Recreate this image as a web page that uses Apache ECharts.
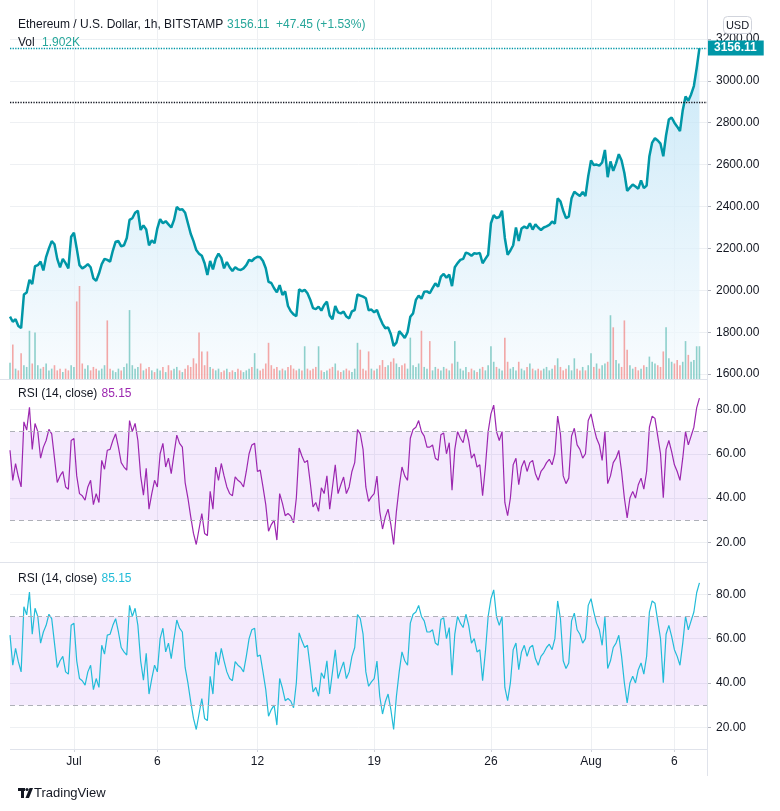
<!DOCTYPE html>
<html><head><meta charset="utf-8">
<script src="https://cdn.jsdelivr.net/npm/echarts@6.0.0/dist/echarts.min.js"></script>
<style>html,body{margin:0;padding:0;background:#fff}#c{width:780px;height:811px}</style>
</head><body><div id="c"></div>
<script>
// ---- data (4-hour samples) ----
const startTime = Date.UTC(2021, 5, 27, 4);   // Jun 27 04:00 UTC
const stepHours = 4;
const price = [
1874,1850,1862,1830,1820,1980,1990,2050,2030,2115,
2120,2137,2095,2160,2200,2235,2220,2150,2110,2150,
2130,2105,2256,2275,2200,2120,2105,2113,2125,2110,
2057,2045,2080,2125,2150,2145,2137,2190,2232,2235,
2210,2215,2250,2336,2344,2370,2380,2288,2310,2290,
2215,2238,2225,2296,2340,2320,2330,2315,2300,2336,
2398,2385,2387,2370,2320,2270,2235,2192,2175,2165,
2129,2073,2140,2100,2150,2175,2155,2105,2135,2110,
2092,2110,2100,2097,2105,2120,2145,2140,2153,2160,
2158,2140,2105,2040,2035,2010,1990,2025,1978,1995,
1925,1900,1885,1877,2005,1995,2002,1986,1955,1915,
1910,1922,1903,1930,1946,1880,1862,1925,1895,1890,
1898,1875,1866,1900,1906,1980,1975,1970,1962,1905,
1908,1895,1906,1870,1840,1819,1823,1790,1735,1750,
1805,1790,1772,1800,1874,1890,1954,1975,1960,1993,
1995,1986,2010,2033,2017,2065,2078,2060,2075,2020,
2110,2130,2145,2150,2180,2175,2165,2177,2175,2178,
2129,2150,2170,2320,2359,2345,2350,2380,2250,2170,
2190,2215,2300,2235,2295,2304,2296,2320,2290,2315,
2300,2288,2300,2305,2312,2328,2318,2439,2425,2380,
2345,2352,2440,2470,2460,2450,2470,2450,2545,2620,
2598,2600,2595,2610,2670,2540,2615,2570,2606,2650,
2620,2560,2475,2490,2505,2495,2485,2525,2488,2500,
2640,2705,2726,2715,2700,2640,2740,2815,2825,2800,
2781,2760,2860,2925,2905,2935,2975,3060,3156.11
];
const volume = [ // thousands
0.95,2.0,0.6,0.5,1.5,0.8,0.7,2.8,0.9,2.7,
0.8,0.6,0.7,0.9,0.5,0.6,0.8,0.5,0.6,0.4,
0.6,0.5,0.8,0.7,4.5,5.4,0.9,0.6,0.8,0.5,
0.7,0.6,0.5,0.6,0.8,3.4,0.6,0.5,0.4,0.6,
0.5,0.7,0.9,4.0,0.8,0.6,0.7,0.9,0.5,0.6,
0.7,0.5,0.4,0.6,0.5,0.7,0.4,0.8,0.5,0.6,
0.7,0.5,0.4,0.6,0.8,0.7,1.2,0.9,2.7,1.6,
0.8,1.6,0.7,0.6,0.5,0.6,0.4,0.5,0.6,0.4,
0.5,0.4,0.6,0.5,0.4,0.5,0.6,0.7,1.5,0.6,
0.5,0.6,0.9,2.1,0.8,0.6,0.7,0.5,0.6,0.5,
0.7,0.8,0.6,0.5,0.6,0.5,1.9,0.6,0.5,0.6,
0.7,1.9,0.5,0.4,0.5,0.6,0.7,0.9,0.5,0.4,
0.5,0.6,0.5,0.4,0.6,2.1,1.7,0.6,0.5,1.6,
0.6,0.5,0.6,0.8,1.1,0.7,0.8,1.0,1.2,0.9,
0.7,0.8,0.9,0.6,2.4,0.8,0.7,0.9,2.8,0.7,
0.6,2.2,0.5,0.7,0.6,0.5,0.7,0.6,0.5,0.9,
2.2,1.0,0.6,0.5,0.7,0.4,0.6,0.5,0.4,0.6,
0.7,0.5,0.8,1.9,1.0,0.7,0.6,0.5,2.4,1.0,
0.6,0.7,0.5,1.0,0.6,0.5,0.7,0.9,0.6,0.5,
0.6,0.5,0.6,0.7,0.5,0.6,0.8,1.2,0.7,0.5,
0.6,0.8,0.5,1.2,0.6,0.5,0.7,0.5,0.8,1.5,
0.7,0.9,0.6,0.8,0.9,1.0,3.7,3.0,1.1,0.9,
0.7,3.4,1.7,0.8,0.6,0.7,0.5,0.6,0.8,0.7,
1.3,1.0,0.9,0.8,0.7,1.6,3.0,1.2,1.0,0.9,
1.1,0.8,1.0,2.2,1.4,1.0,1.1,1.9,1.902
];
const rsi = [
61.6,48,55.6,49.6,45,74.4,70.7,81,62,73.7,
70,58,63,66,71,69,58,47,50,52,
45,44,66,66.9,50,42,41,39,45,48,
37,42,38,57,53,61.6,62,66,69,63,
56,54,52.6,75,70,73.7,66,50,41.3,53.4,
35,42,48,45,60,64.7,54,58,51,60,
68.4,64.7,63,47,40,31.6,24,19,26,33,
24,23,43,35,54,48,55.6,50,45,42,
41,49.6,48,47,45,52,60,64,64.7,52,
52.6,45,37,25,28,30,21,42,37.6,32,
33,31.8,28.8,40,62.6,59,56,57,47,36,
38,34,44.6,42,50,35,45,55,42,46,
49.5,42,45,52,56,70.9,69,62,45,38.5,
40.5,42,49.9,34,26,31.5,35,28,19,34,
45,54,50,48,67,71,72,75,70,68,
63,63,64,58,57,68.6,69.4,60,65,43.5,
62,70,67,65,71,66,58,60,54,55,
41,54,70,78,82,70,66,70,38,32,
40,55,58,46,54,57,52,56,57,51,
48,52,53.6,56,57.5,55,60,77,69,50,
46.5,49,68,71.5,64,62,58,60,75,78,
72,67,64,57,70,46.5,50,56,58,61.5,
52,40,31,40,43,40,46,49,44,52,
72,77,76,68,60,40.1,62,66,61,55,
52,48,58,70,64,68,72,80.7,85.15
];
const dateTicks = [Date.UTC(2021,6,1),Date.UTC(2021,6,6),Date.UTC(2021,6,12),Date.UTC(2021,6,19),Date.UTC(2021,6,26),Date.UTC(2021,7,1),Date.UTC(2021,7,6)];
const priceTicks = [1600,1800,2000,2200,2400,2600,2800,3000,3200];
const rsiTicks = [20,40,60,80];
const lastPrice = 3156.11;
const prevClose = 2899;
const rsiUpper = 70, rsiLower = 30;

// ---- build ----
const DAY = 86400000;
const times = price.map((_, i) => startTime + i * stepHours * 3600000);
const xMin = startTime, xMax = startTime + 41.787 * DAY;
const ff = "'Liberation Sans', Arial, sans-serif";
const months = ['Jan','Feb','Mar','Apr','May','Jun','Jul','Aug','Sep','Oct','Nov','Dec'];
function fmtDate(v){ const d = new Date(v); return d.getUTCDate() === 1 ? months[d.getUTCMonth()] : String(d.getUTCDate()); }
const gridCol = '#eef0f3';
const teal = '#0097a7';
const up = 'rgba(38,166,154,0.5)', down = 'rgba(239,83,80,0.5)';

function xAx(gi){
  return {type:'value', gridIndex:gi, min:xMin, max:xMax,
    axisLine:{show:false},
    axisTick:{show:gi===2, customValues:dateTicks, length:3, lineStyle:{color:'#d1d4dc'}},
    axisLabel:{show:gi===2, customValues:dateTicks, formatter:fmtDate, color:'#131722', fontSize:12, margin:7, fontFamily:ff},
    splitLine:{show:true, lineStyle:{color:gridCol, width:1}}};
}
function yAx(gi, min, max, ticks){
  return {type:'value', gridIndex:gi, position:'right', min:min, max:max,
    axisLine:{show:false},
    axisTick:{show:true, customValues:ticks, length:4, lineStyle:{color:'#b2b5be'}},
    axisLabel:{customValues:ticks, formatter:v=>v.toFixed(2), color:'#131722', fontSize:12, margin:9, fontFamily:ff},
    splitLine:{show:true, lineStyle:{color:gridCol, width:1}}};
}
const pData = times.map((t,i)=>[t, price[i]]);
const vData = times.map((t,i)=>({value:[t, volume[i]], itemStyle:{color:(i===0 || price[i] >= price[i-1]) ? up : down}}));
const rData = times.map((t,i)=>[t, rsi[i]]);

function rsiSeries(xi, yi, color){
  return {type:'line', xAxisIndex:xi, yAxisIndex:yi, data:rData, showSymbol:false, symbol:'none',
    lineStyle:{color:color, width:1.2}, z:3,
    markArea:{silent:true, itemStyle:{color:'rgba(155,60,240,0.11)'}, data:[[{yAxis:rsiLower},{yAxis:rsiUpper}]]},
    markLine:{silent:true, symbol:'none', label:{show:false},
      lineStyle:{color:'#aeb0b8', type:[5,4], width:1},
      data:[{yAxis:rsiUpper},{yAxis:rsiLower}]}};
}

const chart = echarts.init(document.getElementById('c'), null, {renderer:'canvas'});
chart.setOption({
  animation:false,
  backgroundColor:'#ffffff',
  grid:[
    {left:10, width:697, top:0, height:379},
    {left:10, width:697, top:380, height:182.5},
    {left:10, width:697, top:563, height:186}
  ],
  xAxis:[xAx(0), xAx(1), xAx(2)],
  yAxis:[
    yAx(0, 1576.7, 3385.7, priceTicks),
    {type:'value', gridIndex:0, min:0, max:22, show:false, splitLine:{show:false}},
    yAx(1, 10.87, 93.33, rsiTicks),
    yAx(2, 10.21, 94.12, rsiTicks)
  ],
  series:[
    {type:'line', xAxisIndex:0, yAxisIndex:0, data:pData, symbol:'none', z:1,
     lineStyle:{width:0},
     areaStyle:{origin:'start', color:new echarts.graphic.LinearGradient(0,0,0,1,[{offset:0,color:'#b4dff5'},{offset:1,color:'#f7fbfe'}])}},
    {type:'bar', xAxisIndex:0, yAxisIndex:1, data:vData, barWidth:1.6, z:2},
    {type:'line', xAxisIndex:0, yAxisIndex:0, data:pData, symbol:'none', z:3,
     lineStyle:{color:teal, width:2.5},
     markLine:{silent:true, symbol:'none',
       data:[
         {yAxis:lastPrice, lineStyle:{color:teal, type:'dotted', width:1.3},
          label:{show:true, position:'end', distance:0, formatter:lastPrice.toFixed(2), color:'#fff', fontWeight:'bold',
                 fontSize:12, fontFamily:ff, backgroundColor:teal, padding:[2,7,1,7], lineHeight:12}},
         {yAxis:prevClose, lineStyle:{color:'#131722', type:'dotted', width:1.3}, label:{show:false}}
       ]}},
    rsiSeries(1, 2, '#9c27b0'),
    rsiSeries(2, 3, '#22bcd8')
  ],
  graphic:[
    {type:'line', shape:{x1:707.5,y1:0,x2:707.5,y2:776}, style:{stroke:'#e0e3eb', lineWidth:1}, z:10},
    {type:'line', shape:{x1:0,y1:379.5,x2:707,y2:379.5}, style:{stroke:'#e0e3eb', lineWidth:1}, z:10},
    {type:'line', shape:{x1:0,y1:562.5,x2:707,y2:562.5}, style:{stroke:'#e0e3eb', lineWidth:1}, z:10},
    {type:'line', shape:{x1:10,y1:749.5,x2:707,y2:749.5}, style:{stroke:'#e0e3eb', lineWidth:1}, z:10},
    {type:'rect', shape:{x:723.5,y:16.5,width:28,height:17,r:4}, style:{fill:'#fff', stroke:'#d1d4dc', lineWidth:1}, z:20},
    {type:'text', x:737.5, y:25.5, style:{text:'USD', fill:'#131722', font:'11px '+ff, align:'center', verticalAlign:'middle'}, z:21},
    {type:'text', x:18, y:25, style:{text:'Ethereum / U.S. Dollar, 1h, BITSTAMP', fill:'#131722', font:'12px '+ff, verticalAlign:'middle'}, z:20},
    {type:'text', x:227, y:25, style:{text:'3156.11', fill:'#26a69a', font:'12px '+ff, verticalAlign:'middle'}, z:20},
    {type:'text', x:276, y:25, style:{text:'+47.45 (+1.53%)', fill:'#26a69a', font:'12px '+ff, verticalAlign:'middle'}, z:20},
    {type:'text', x:18, y:42.5, style:{text:'Vol', fill:'#131722', font:'12px '+ff, verticalAlign:'middle'}, z:20},
    {type:'text', x:42, y:42.5, style:{text:'1.902K', fill:'#26a69a', font:'12px '+ff, verticalAlign:'middle'}, z:20},
    {type:'text', x:18, y:394, style:{text:'RSI (14, close)', fill:'#131722', font:'12px '+ff, verticalAlign:'middle'}, z:20},
    {type:'text', x:101.5, y:394, style:{text:'85.15', fill:'#9c27b0', font:'12px '+ff, verticalAlign:'middle'}, z:20},
    {type:'text', x:18, y:579, style:{text:'RSI (14, close)', fill:'#131722', font:'12px '+ff, verticalAlign:'middle'}, z:20},
    {type:'text', x:101.5, y:579, style:{text:'85.15', fill:'#22bcd8', font:'12px '+ff, verticalAlign:'middle'}, z:20},
    {type:'rect', shape:{x:18,y:788,width:7,height:3}, style:{fill:'#131722'}, z:20},
    {type:'rect', shape:{x:21,y:788,width:3,height:10}, style:{fill:'#131722'}, z:20},
    {type:'circle', shape:{cx:27,cy:789.5,r:1.6}, style:{fill:'#131722'}, z:20},
    {type:'polygon', shape:{points:[[29.5,788],[33,788],[29,798],[25.5,798]]}, style:{fill:'#131722'}, z:20},
    {type:'text', x:34, y:793.5, style:{text:'TradingView', fill:'#131722', font:'13px '+ff, verticalAlign:'middle'}, z:20}
  ]
});
</script></body></html>
